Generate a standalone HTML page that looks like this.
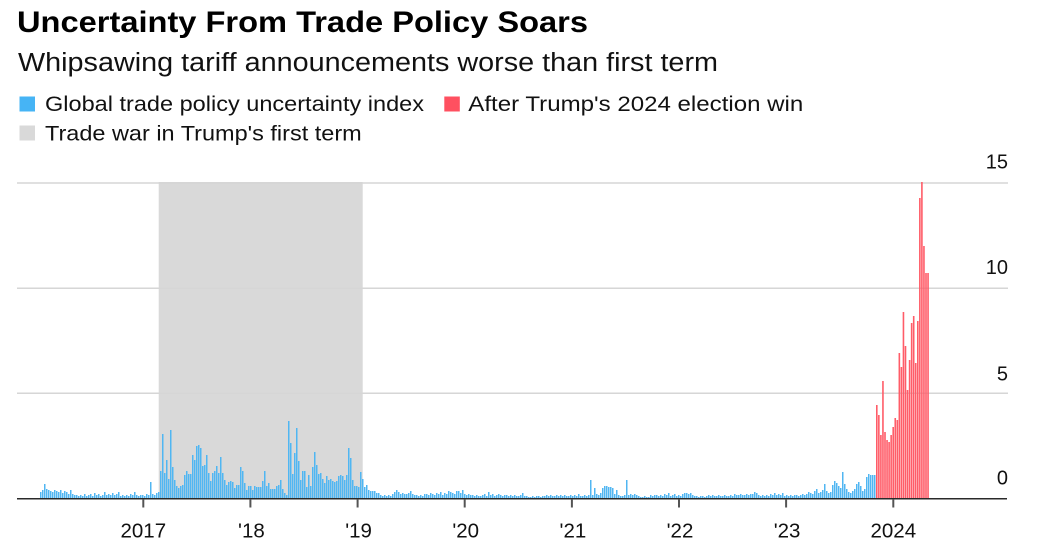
<!DOCTYPE html>
<html>
<head>
<meta charset="utf-8">
<style>
  html,body{margin:0;padding:0;background:#fff;}
  svg{display:block;}
  text{font-family:"Liberation Sans",Arial,sans-serif;}
</style>
</head>
<body>
<svg width="1041" height="555" viewBox="0 0 1041 555" xmlns="http://www.w3.org/2000/svg">
  <rect x="0" y="0" width="1041" height="555" fill="#fff"/>

  <!-- Title / subtitle -->
  <text x="17" y="32" font-size="30" font-weight="bold" fill="#000" textLength="571" lengthAdjust="spacingAndGlyphs">Uncertainty From Trade Policy Soars</text>
  <text x="18" y="71" font-size="25.5" fill="#111" textLength="700" lengthAdjust="spacingAndGlyphs">Whipsawing tariff announcements worse than first term</text>

  <!-- Legend -->
  <rect x="19.5" y="96.5" width="15.5" height="15" fill="#46B4F5"/>
  <text x="45" y="111.2" font-size="21.5" fill="#111" textLength="379" lengthAdjust="spacingAndGlyphs">Global trade policy uncertainty index</text>
  <rect x="444.3" y="96.5" width="15.5" height="15" fill="#FF5060"/>
  <text x="468.3" y="111.2" font-size="21.5" fill="#111" textLength="335" lengthAdjust="spacingAndGlyphs">After Trump's 2024 election win</text>
  <rect x="19.5" y="125.5" width="15.5" height="15" fill="#D9D9D9"/>
  <text x="45" y="140.3" font-size="21.5" fill="#111" textLength="316.7" lengthAdjust="spacingAndGlyphs">Trade war in Trump's first term</text>

  <!-- Shaded region -->
  <rect x="158.7" y="182" width="204" height="316.5" fill="#D9D9D9"/>

  <!-- Gridlines -->
  <g stroke="#D6D6D6" stroke-width="1.5">
    <line x1="17" y1="183" x2="1008" y2="183"/>
    <line x1="17" y1="288.2" x2="1008" y2="288.2"/>
    <line x1="17" y1="393.3" x2="1008" y2="393.3"/>
  </g>

  <!-- Y labels -->
  <g font-size="20" fill="#111" text-anchor="end">
    <text x="1008" y="168.5">15</text>
    <text x="1008" y="274">10</text>
    <text x="1008" y="380.5">5</text>
    <text x="1008" y="484.5">0</text>
  </g>

  <!-- Bars -->
  <g transform="translate(0,498) scale(1,-1)">
    <path fill="none" stroke="#50B6F2" stroke-width="1.5" d="M40.75,0V6V0m2,0V8V0m2,0V14V0m2,0V9V0m2,0V8V0m2,0V7V0m2,0V6V0m2,0V8V0m2,0V7V0m2,0V6V0m2,0V8V0m2,0V5V0m2,0V7V0m2,0V6V0m2,0V4V0m2,0V8V0m2,0V4V0m2,0V3V0m2,0V3V0m2,0V2V0m2,0V3V0m2,0V2V0m2,0V4V0m2,0V2V0m2,0V3V0m2,0V4V0m2,0V2V0m2,0V5V0m2,0V3V0m2,0V4V0m2,0V2V0m2,0V3V0m2,0V6V0m2,0V3V0m2,0V4V0m2,0V3V0m2,0V5V0m2,0V3V0m2,0V4V0m2,0V6V0m2,0V2V0m2,0V3V0m2,0V2V0m2,0V3V0m2,0V2V0m2,0V4V0m2,0V3V0m2,0V6V0m2,0V3V0m2,0V2V0m2,0V3V0m2,0V3V0m2,0V2V0m2,0V4V0m2,0V3V0m2,0V16V0m2,0V4V0m2,0V3V0m2,0V5V0m2,0V6V0m2,0V27V0m2,0V64V0m2,0V25V0m2,0V38V0m2,0V19V0m2,0V68V0m2,0V31V0m2,0V18V0m2,0V12V0m2,0V10V0m2,0V12V0m2,0V13V0m2,0V23V0m2,0V27V0m2,0V24V0m2,0V24V0m2,0V43V0m2,0V38V0m2,0V52V0m2,0V53V0m2,0V50V0m2,0V32V0m2,0V33V0m2,0V43V0m2,0V25V0m2,0V17V0m2,0V25V0m2,0V27V0m2,0V32V0m2,0V25V0m2,0V41V0m2,0V25V0m2,0V18V0m2,0V13V0m2,0V16V0m2,0V17V0m2,0V16V0m2,0V10V0m2,0V13V0m2,0V13V0m2,0V31V0m2,0V27V0m2,0V15V0m2,0V8V0m2,0V12V0m2,0V12V0m2,0V8V0m2,0V12V0m2,0V11V0m2,0V11V0m2,0V11V0m2,0V17V0m2,0V27V0m2,0V12V0m2,0V15V0m2,0V9V0m2,0V9V0m2,0V9V0m2,0V12V0m2,0V13V0m2,0V18V0m2,0V9V0m2,0V5V0m2,0V3V0m2,0V77V0m2,0V55V0m2,0V24V0m2,0V45V0m2,0V70V0m2,0V37V0m2,0V18V0m2,0V27V0m2,0V27V0m2,0V11V0m2,0V23V0m2,0V12V0m2,0V31V0m2,0V46V0m2,0V33V0m2,0V24V0m2,0V25V0m2,0V19V0m2,0V15V0m2,0V22V0m2,0V18V0m2,0V19V0m2,0V17V0m2,0V16V0m2,0V17V0m2,0V22V0m2,0V23V0m2,0V22V0m2,0V18V0m2,0V23V0m2,0V50V0m2,0V40V0m2,0V18V0m2,0V12V0m2,0V12V0m2,0V11V0m2,0V26V0m2,0V19V0m2,0V11V0m2,0V13V0m2,0V8V0m2,0V7V0m2,0V7V0m2,0V7V0m2,0V5V0m2,0V5V0m2,0V3V0m2,0V2V0m2,0V3V0m2,0V2V0m2,0V3V0m2,0V2V0m2,0V4V0m2,0V6V0m2,0V8V0m2,0V6V0m2,0V4V0m2,0V5V0m2,0V4V0m2,0V4V0m2,0V5V0m2,0V7V0m2,0V4V0m2,0V3V0m2,0V3V0m2,0V2V0m2,0V3V0m2,0V2V0m2,0V4V0m2,0V4V0m2,0V3V0m2,0V5V0m2,0V4V0m2,0V3V0m2,0V5V0m2,0V4V0m2,0V6V0m2,0V3V0m2,0V5V0m2,0V4V0m2,0V7V0m2,0V6V0m2,0V5V0m2,0V4V0m2,0V7V0m2,0V7V0m2,0V5V0m2,0V8V0m2,0V4V0m2,0V3V0m2,0V4V0m2,0V3V0m2,0V3V0m2,0V2V0m2,0V3V0m2,0V2V0m2,0V2V0m2,0V3V0m2,0V4V0m2,0V2V0m2,0V6V0m2,0V3V0m2,0V4V0m2,0V2V0m2,0V3V0m2,0V4V0m2,0V3V0m2,0V2V0m2,0V3V0m2,0V3V0m2,0V2V0m2,0V3V0m2,0V2V0m2,0V3V0m2,0V2V0m2,0V2V0m2,0V3V0m2,0V5V0m2,0V2V0m2,0V2V0m2,0V1V0m2,0V1V0m2,0V2V0m2,0V1V0m2,0V2V0m2,0V2V0m2,0V1V0m2,0V2V0m2,0V2V0m2,0V3V0m2,0V2V0m2,0V3V0m2,0V2V0m2,0V2V0m2,0V3V0m2,0V2V0m2,0V3V0m2,0V2V0m2,0V3V0m2,0V2V0m2,0V2V0m2,0V3V0m2,0V2V0m2,0V3V0m2,0V2V0m2,0V4V0m2,0V2V0m2,0V2V0m2,0V3V0m2,0V2V0m2,0V3V0m2,0V18V0m2,0V3V0m2,0V10V0m2,0V4V0m2,0V3V0m2,0V5V0m2,0V10V0m2,0V12V0m2,0V12V0m2,0V11V0m2,0V11V0m2,0V10V0m2,0V4V0m2,0V8V0m2,0V3V0m2,0V2V0m2,0V2V0m2,0V3V0m2,0V18V0m2,0V3V0m2,0V4V0m2,0V3V0m2,0V4V0m2,0V3V0m2,0V2V0m2,0V1V0m2,0V1V0m2,0V2V0m2,0V1V0m2,0V1V0m2,0V3V0m2,0V2V0m2,0V3V0m2,0V3V0m2,0V2V0m2,0V3V0m2,0V2V0m2,0V4V0m2,0V3V0m2,0V5V0m2,0V2V0m2,0V3V0m2,0V4V0m2,0V2V0m2,0V3V0m2,0V2V0m2,0V4V0m2,0V5V0m2,0V5V0m2,0V4V0m2,0V5V0m2,0V3V0m2,0V2V0m2,0V2V0m2,0V1V0m2,0V2V0m2,0V2V0m2,0V1V0m2,0V2V0m2,0V3V0m2,0V2V0m2,0V3V0m2,0V2V0m2,0V2V0m2,0V3V0m2,0V2V0m2,0V2V0m2,0V3V0m2,0V2V0m2,0V2V0m2,0V3V0m2,0V2V0m2,0V4V0m2,0V3V0m2,0V3V0m2,0V4V0m2,0V3V0m2,0V3V0m2,0V4V0m2,0V3V0m2,0V4V0m2,0V4V0m2,0V6V0m2,0V5V0m2,0V3V0m2,0V2V0m2,0V3V0m2,0V2V0m2,0V3V0m2,0V2V0m2,0V4V0m2,0V3V0m2,0V5V0m2,0V3V0m2,0V4V0m2,0V3V0m2,0V5V0m2,0V2V0m2,0V3V0m2,0V2V0m2,0V3V0m2,0V2V0m2,0V3V0m2,0V3V0m2,0V2V0m2,0V3V0m2,0V4V0m2,0V3V0m2,0V4V0m2,0V6V0m2,0V5V0m2,0V4V0m2,0V7V0m2,0V9V0m2,0V5V0m2,0V6V0m2,0V8V0m2,0V14V0m2,0V7V0m2,0V5V0m2,0V6V0m2,0V13V0m2,0V17V0m2,0V15V0m2,0V12V0m2,0V10V0m2,0V26V0m2,0V14V0m2,0V9V0m2,0V6V0m2,0V5V0m2,0V7V0m2,0V9V0m2,0V14V0m2,0V16V0m2,0V12V0m2,0V7V0m2,0V9V0m2,0V21V0m2,0V24V0m2,0V23V0m2,0V23V0m2,0V23V0"/>
    <path fill="none" stroke="#FF5C68" stroke-width="1.6" d="M876.8,0V93V0m2.05,0V83V0m2.05,0V63V0m2.05,0V117V0m2.05,0V66V0m2.05,0V58V0m2.05,0V56V0m2.05,0V63V0m2.05,0V71V0m2.05,0V80V0m2.05,0V78V0m2.05,0V145V0m2.05,0V131V0m2.05,0V186V0m2.05,0V152V0m2.05,0V108V0m2.05,0V138V0m2.05,0V175V0m2.05,0V182V0m2.05,0V135V0m2.05,0V177V0m2.05,0V300V0m2.05,0V316V0m2.05,0V252V0m2.05,0V225V0m2.05,0V225V0"/>
  </g>

  <!-- Baseline axis -->
  <line x1="17" y1="498.7" x2="1007" y2="498.7" stroke="#2a2a2a" stroke-width="1.5"/>

  <!-- Ticks -->
  <g stroke="#555" stroke-width="2">
    <line x1="143.3" y1="499" x2="143.3" y2="507.5"/>
    <line x1="250.4" y1="499" x2="250.4" y2="507.5"/>
    <line x1="357.6" y1="499" x2="357.6" y2="507.5"/>
    <line x1="464.7" y1="499" x2="464.7" y2="507.5"/>
    <line x1="571.9" y1="499" x2="571.9" y2="507.5"/>
    <line x1="679" y1="499" x2="679" y2="507.5"/>
    <line x1="786.1" y1="499" x2="786.1" y2="507.5"/>
    <line x1="893.3" y1="499" x2="893.3" y2="507.5"/>
  </g>

  <!-- X labels -->
  <g font-size="20.5" fill="#111" text-anchor="middle">
    <text x="143.3" y="537.5">2017</text>
    <text x="251.4" y="537.5">'18</text>
    <text x="358.6" y="537.5">'19</text>
    <text x="465.7" y="537.5">'20</text>
    <text x="572.9" y="537.5">'21</text>
    <text x="680" y="537.5">'22</text>
    <text x="787.1" y="537.5">'23</text>
    <text x="893.3" y="537.5">2024</text>
  </g>
</svg>
</body>
</html>
